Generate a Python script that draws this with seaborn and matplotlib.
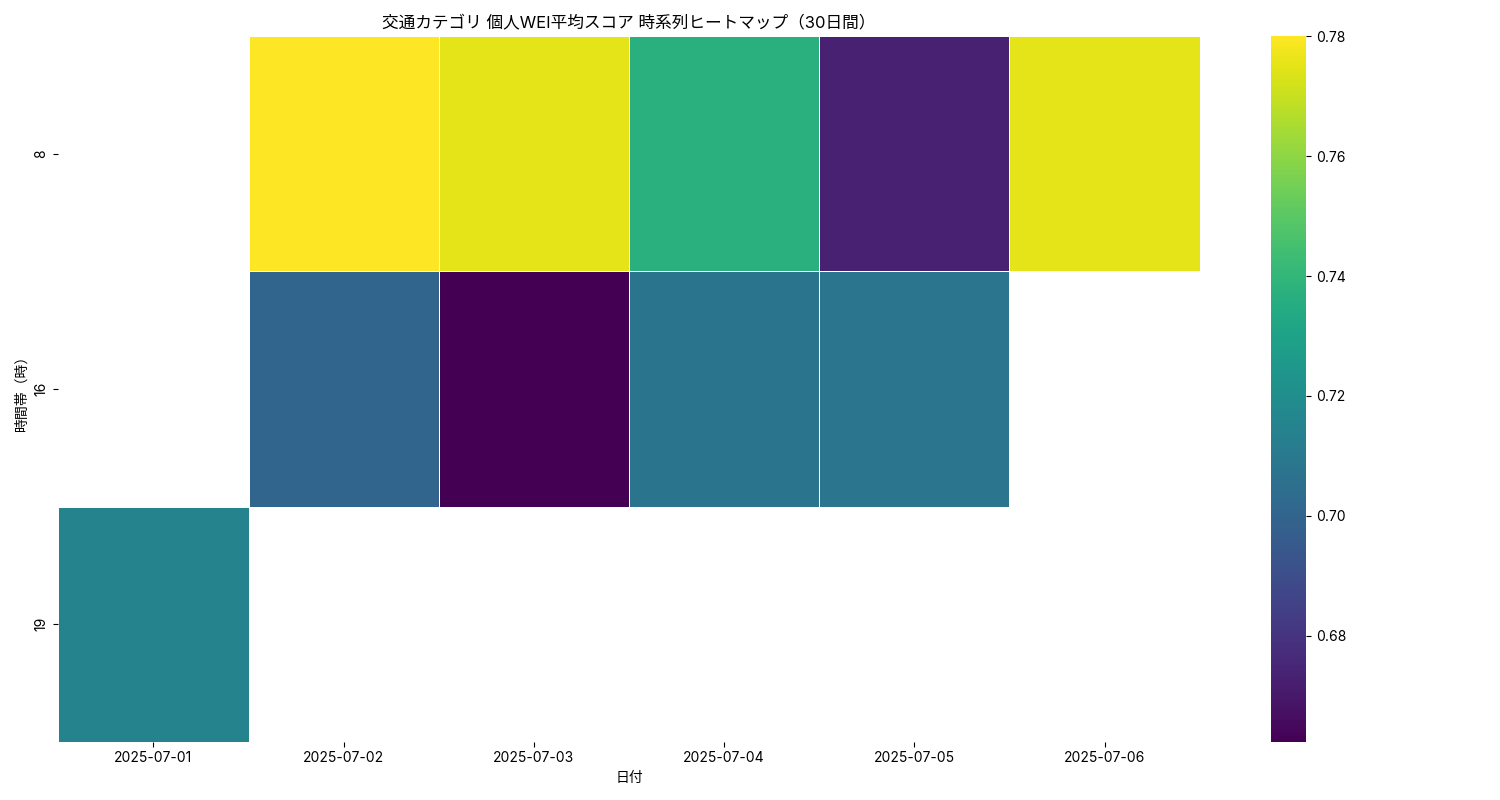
import numpy as np
import pandas as pd
import matplotlib
matplotlib.use("Agg")
import matplotlib.pyplot as plt
import seaborn as sns

dates = ["2025-07-01", "2025-07-02", "2025-07-03", "2025-07-04", "2025-07-05", "2025-07-06"]
hours = [8, 16, 19]
score_8 = [np.nan, 0.7800, 0.7750, 0.7370, 0.6730, 0.7750]
score_16 = [np.nan, 0.7002, 0.6623, 0.7075, 0.7080, np.nan]
score_19 = [0.7150, np.nan, np.nan, np.nan, np.nan, np.nan]

plt.rcParams['font.family'] = ['Inter', 'Noto Sans CJK JP']

pivot = pd.DataFrame([score_8, score_16, score_19], index=hours, columns=dates)

fig, ax = plt.subplots(figsize=(15, 8), dpi=100)
sns.heatmap(pivot, cmap="viridis", linewidths=0.5, linecolor="white", ax=ax)
ax.set_title("交通カテゴリ 個人WEI平均スコア 時系列ヒートマップ（30日間）")
ax.set_xlabel("日付")
ax.set_ylabel("時間帯（時）")
plt.tight_layout()
plt.savefig("out.png")
